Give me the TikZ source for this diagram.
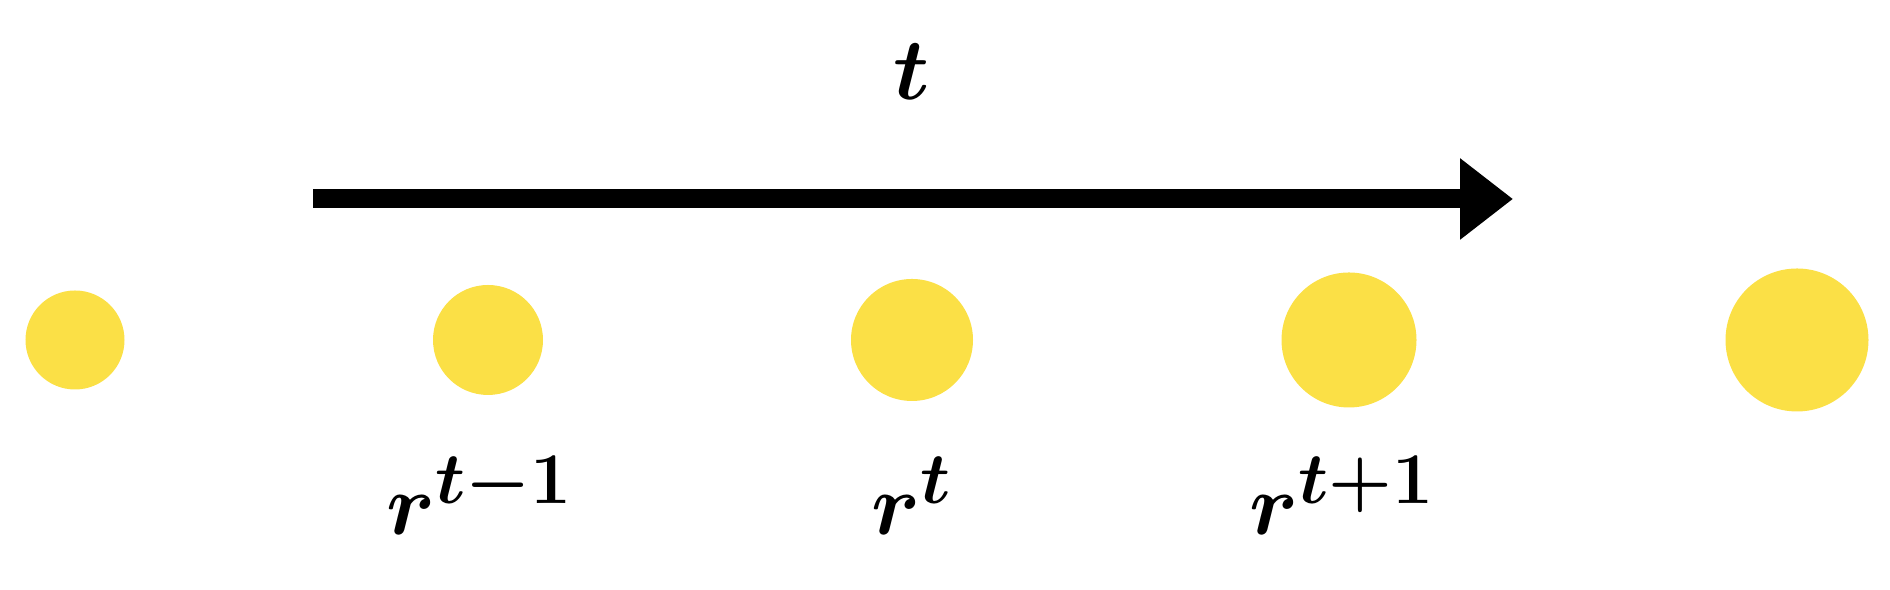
\documentclass[tikz,border=0pt]{standalone}
\usepackage{amsmath}
\usepackage{tikz}
\usetikzlibrary{arrows.meta}

\definecolor{sunyellow}{HTML}{FBE046}

\begin{document}
\begin{tikzpicture}[line cap=butt, line join=miter, >=Triangle,
	dot/.style={circle, fill=sunyellow, inner sep=0pt},
	lbl/.style={anchor=base, font=\fontsize{30}{36}\selectfont\boldmath}]
			\useasboundingbox (0,0) rectangle (18.9,5.9);
			\node[dot, minimum size=0.99cm] (c1) at (0.75,2.50) {};
			\node[dot, minimum size=1.10cm] (c2) at (4.88,2.50) {};
			\node[dot, minimum size=1.22cm] (c3) at (9.12,2.50) {};
			\node[dot, minimum size=1.35cm] (c4) at (13.49,2.50) {};
			\node[dot, minimum size=1.43cm] (c5) at (17.97,2.50) {};
			\coordinate (tstart) at (3.13,3.91);
			\coordinate (tend) at (15.13,3.91);
			\draw [-{Triangle[length=0.53cm, width=0.78cm]}, line width=0.19cm] (tstart) -- (tend);
			\node[lbl] (tlbl) at (9.12,4.90) {$t$};
			\node[lbl] (l2) at (4.80,0.55) {$r^{t-1}$};
			\node[lbl] (l3) at (9.12,0.55) {$r^{t}$};
			\node[lbl] (l4) at (13.42,0.55) {$r^{t+1}$};
		\end{tikzpicture}
\end{document}
